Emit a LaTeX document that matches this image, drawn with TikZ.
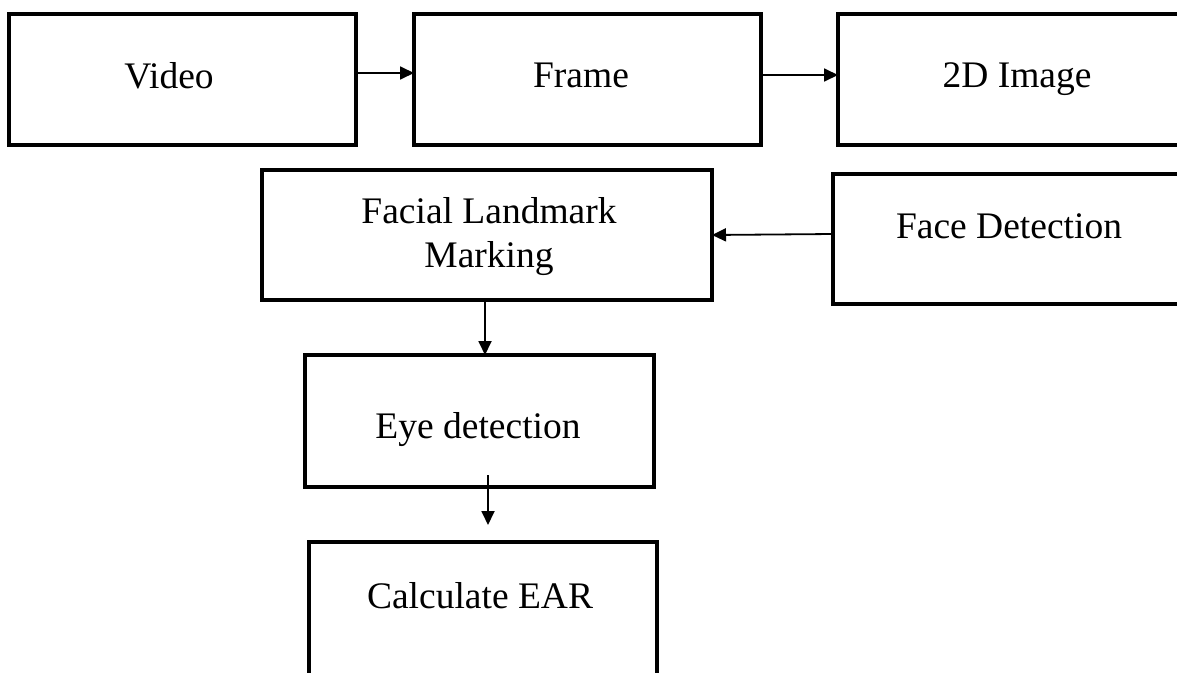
\documentclass[tikz,border=0pt]{standalone}
\usepackage{fontspec}
\setmainfont{Liberation Serif}
\usetikzlibrary{arrows.meta}

\begin{document}
\begin{tikzpicture}[x=1pt, y=-1pt,
  stagebox/.style={draw=black, line width=4.3pt, rectangle, inner sep=0pt, outer sep=0pt},
  caption/.style={font=\fontsize{37.5}{44}\selectfont, inner sep=0pt, text=black},
  flow/.style={line width=1.8pt, -{Triangle[length=14pt, width=13pt]}}
]
\useasboundingbox (0,0) rectangle (1177,672);
\fill[white] (0,0) rectangle (1177,672);
\clip (0,0) rectangle (1177,672);

% stage boxes
\node[stagebox, minimum width=347pt, minimum height=131pt] (video)  at (182.5,79.5) {};
\node[stagebox, minimum width=347pt, minimum height=131pt] (frame)  at (587.5,79.5) {};
\node[stagebox, minimum width=352pt, minimum height=131pt] (image)  at (1014,79.5) {};
\node[stagebox, minimum width=450pt, minimum height=130pt] (facial) at (487,235) {};
\node[stagebox, minimum width=357pt, minimum height=130pt] (face)   at (1011.5,239) {};
\node[stagebox, minimum width=349pt, minimum height=132pt] (eye)    at (479.5,421) {};
\node[stagebox, minimum width=348pt, minimum height=158pt] (ear)    at (483,621) {};

% labels
\node[caption, anchor=base] (tvideo) at (169,88) {Video};
\node[caption, anchor=base] (tframe) at (581,87) {Frame};
\node[caption, anchor=base] (timage) at (1017,87) {2D Image};
\node[caption, align=center] (tfacial) at (489,237) {Facial Landmark\\Marking};
\node[caption, anchor=base] (tface) at (1009,238) {Face Detection};
\node[caption, anchor=base] (teye) at (478,438) {Eye detection};
\node[caption, anchor=base] (tear) at (480,608) {Calculate EAR};

% connectors
\draw[flow] ([yshift=6.5pt]video.east) -- ([yshift=6.5pt]frame.west);
\draw[flow] ([yshift=4.5pt]frame.east) -- ([yshift=4.5pt]image.west);
\draw[flow] ([yshift=5pt]face.west) -- (facial.east);
\draw[flow] ([xshift=-2pt]facial.south) -- ([xshift=-2pt]facial.south |- eye.north);
\draw[flow, shorten <=-12pt, shorten >=17pt] ([xshift=8.5pt]eye.south) -- ([xshift=8.5pt]eye.south |- ear.north);
\end{tikzpicture}
\end{document}
